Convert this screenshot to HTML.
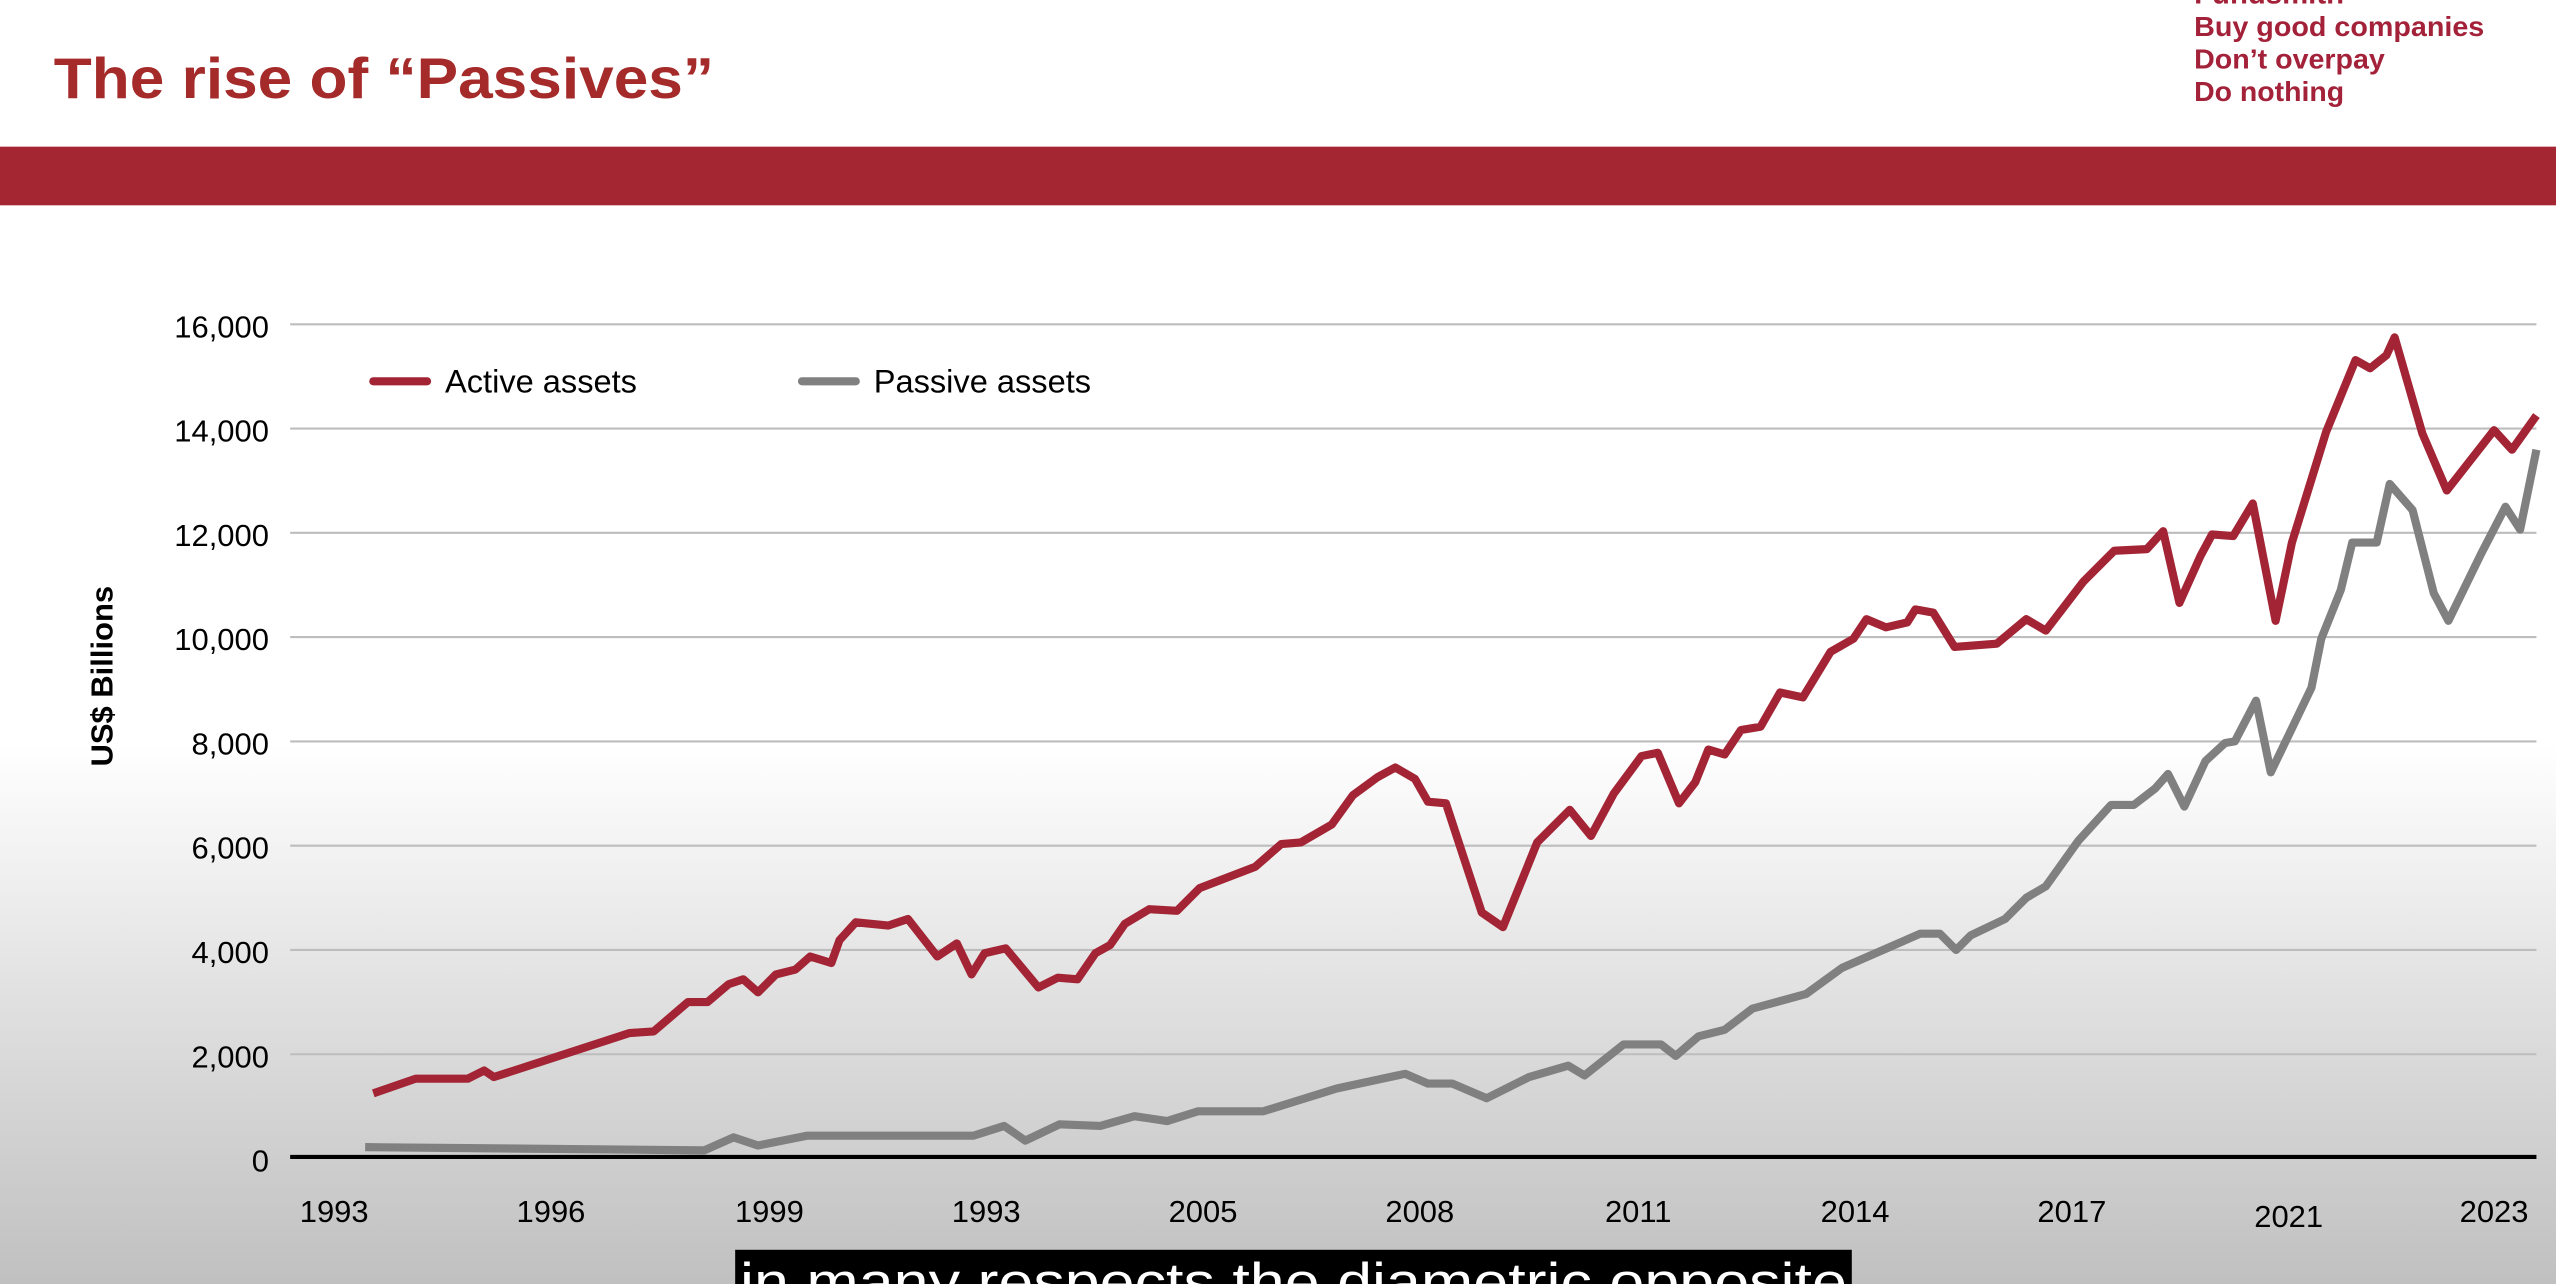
<!DOCTYPE html>
<html><head><meta charset="utf-8"><style>
html,body{margin:0;padding:0;width:2556px;height:1284px;overflow:hidden;background:#fff}
svg{display:block}
text{font-family:"Liberation Sans",Arial,sans-serif}
</style></head><body>
<svg width="2556" height="1284" viewBox="0 0 1568 788" preserveAspectRatio="none" xmlns="http://www.w3.org/2000/svg">
<defs><linearGradient id="bg" x1="0" y1="0" x2="0" y2="1">
<stop offset="0" stop-color="#ffffff"/><stop offset="0.58" stop-color="#ffffff"/><stop offset="0.78" stop-color="#e0e0e0"/><stop offset="1" stop-color="#c0c0c0"/></linearGradient></defs>
<rect width="1568" height="788" fill="url(#bg)"/>
<text x="33" y="60" font-size="35" font-weight="bold" fill="#a52a2a" textLength="405" lengthAdjust="spacingAndGlyphs">The rise of “Passives”</text>
<text x="1346" y="2" font-size="18" font-weight="bold" fill="#a3223a">Fundsmith</text>
<g font-size="17" font-weight="bold" fill="#a3223a">
<text x="1346" y="22" textLength="178" lengthAdjust="spacingAndGlyphs">Buy good companies</text>
<text x="1346" y="42" textLength="117" lengthAdjust="spacingAndGlyphs">Don’t overpay</text>
<text x="1346" y="62" textLength="92" lengthAdjust="spacingAndGlyphs">Do nothing</text></g>
<rect x="0" y="90" width="1568" height="36" fill="#a52633"/>
<g stroke="#bdbdbd" stroke-width="1.3">
<line x1="178" y1="199" x2="1556" y2="199"/><line x1="178" y1="263" x2="1556" y2="263"/>
<line x1="178" y1="327" x2="1556" y2="327"/><line x1="178" y1="391" x2="1556" y2="391"/>
<line x1="178" y1="455" x2="1556" y2="455"/><line x1="178" y1="519" x2="1556" y2="519"/>
<line x1="178" y1="583" x2="1556" y2="583"/><line x1="178" y1="647" x2="1556" y2="647"/></g>
<g font-size="19" fill="#000" text-anchor="end">
<text x="165" y="207">16,000</text><text x="165" y="271">14,000</text><text x="165" y="335">12,000</text>
<text x="165" y="399">10,000</text><text x="165" y="463">8,000</text><text x="165" y="527">6,000</text>
<text x="165" y="591">4,000</text><text x="165" y="655">2,000</text><text x="165" y="719">0</text></g>
<text transform="translate(69,415) rotate(-90)" font-size="19" font-weight="bold" text-anchor="middle">US$ Billions</text>
<g font-size="19" fill="#000" text-anchor="middle">
<text x="205" y="750">1993</text><text x="338" y="750">1996</text><text x="472" y="750">1999</text>
<text x="605" y="750">1993</text><text x="738" y="750">2005</text><text x="871" y="750">2008</text>
<text x="1005" y="750">2011</text><text x="1138" y="750">2014</text><text x="1271" y="750">2017</text>
<text x="1404" y="753">2021</text><text x="1530" y="750">2023</text></g>
<line x1="229" y1="234" x2="262" y2="234" stroke="#a32535" stroke-width="5" stroke-linecap="round"/>
<text x="273" y="241" font-size="20">Active assets</text>
<line x1="492" y1="234" x2="525" y2="234" stroke="#808080" stroke-width="5" stroke-linecap="round"/>
<text x="536" y="241" font-size="20">Passive assets</text>
<polyline fill="none" stroke="#808080" stroke-width="5" stroke-linejoin="round" points="224,704 432,706 450,698 465,703 495,697 597,697 616,691 629,700 650,690 675,691 696,685 716,688 735,682 775,682 820,668 862,659 876,665 891,665 912,674 938,661 962,654 972,660 996,641 1019,641 1028,648 1042,636 1058,632 1075,619 1108,610 1130,594 1178,573 1190,573 1200,583 1209,574 1230,564 1243,551 1255,544 1275,516 1295,494 1309,494 1322,484 1330,475 1340,495 1353,467 1365,456 1371,455 1384,430 1393,474 1406,447 1418,422 1424,392 1436,362 1443,333 1458,333 1466,297 1480,313 1493,364 1502,381 1522,340 1537,311 1546,325 1556,276"/>
<polyline fill="none" stroke="#a32535" stroke-width="5" stroke-linejoin="round" points="229,671 255,662 287,662 297,657 303,661 386,634 401,633 422,615 434,615 447,604 456,601 465,609 476,598 488,595 497,587 510,591 515,577 525,566 545,568 557,564 575,587 587,579 596,598 604,585 617,582 637,606 649,600 661,601 672,585 681,580 690,567 705,558 722,559 736,545 770,532 786,518 798,517 817,506 830,488 845,477 856,471 868,478 876,492 887,493 909,560 922,569 943,517 963,497 976,513 990,487 1007,464 1017,462 1030,493 1040,480 1048,460 1058,463 1068,448 1080,446 1092,425 1106,428 1123,400 1137,392 1145,380 1157,385 1170,382 1175,374 1186,376 1199,397 1225,395 1243,380 1255,387 1278,357 1297,338 1317,337 1327,326 1337,370 1350,341 1357,328 1370,329 1382,309 1396,381 1406,333 1427,265 1445,221 1454,226 1464,218 1469,207 1486,266 1501,301 1530,264 1541,276 1556,255"/>
<line x1="178" y1="710" x2="1556" y2="710" stroke="#000" stroke-width="2.5"/>
<rect x="451" y="767" width="685" height="25" fill="#000"/>
<text x="454" y="798" font-size="33" fill="#fff" textLength="679" lengthAdjust="spacingAndGlyphs">in many respects the diametric opposite</text>
</svg>
</body></html>
